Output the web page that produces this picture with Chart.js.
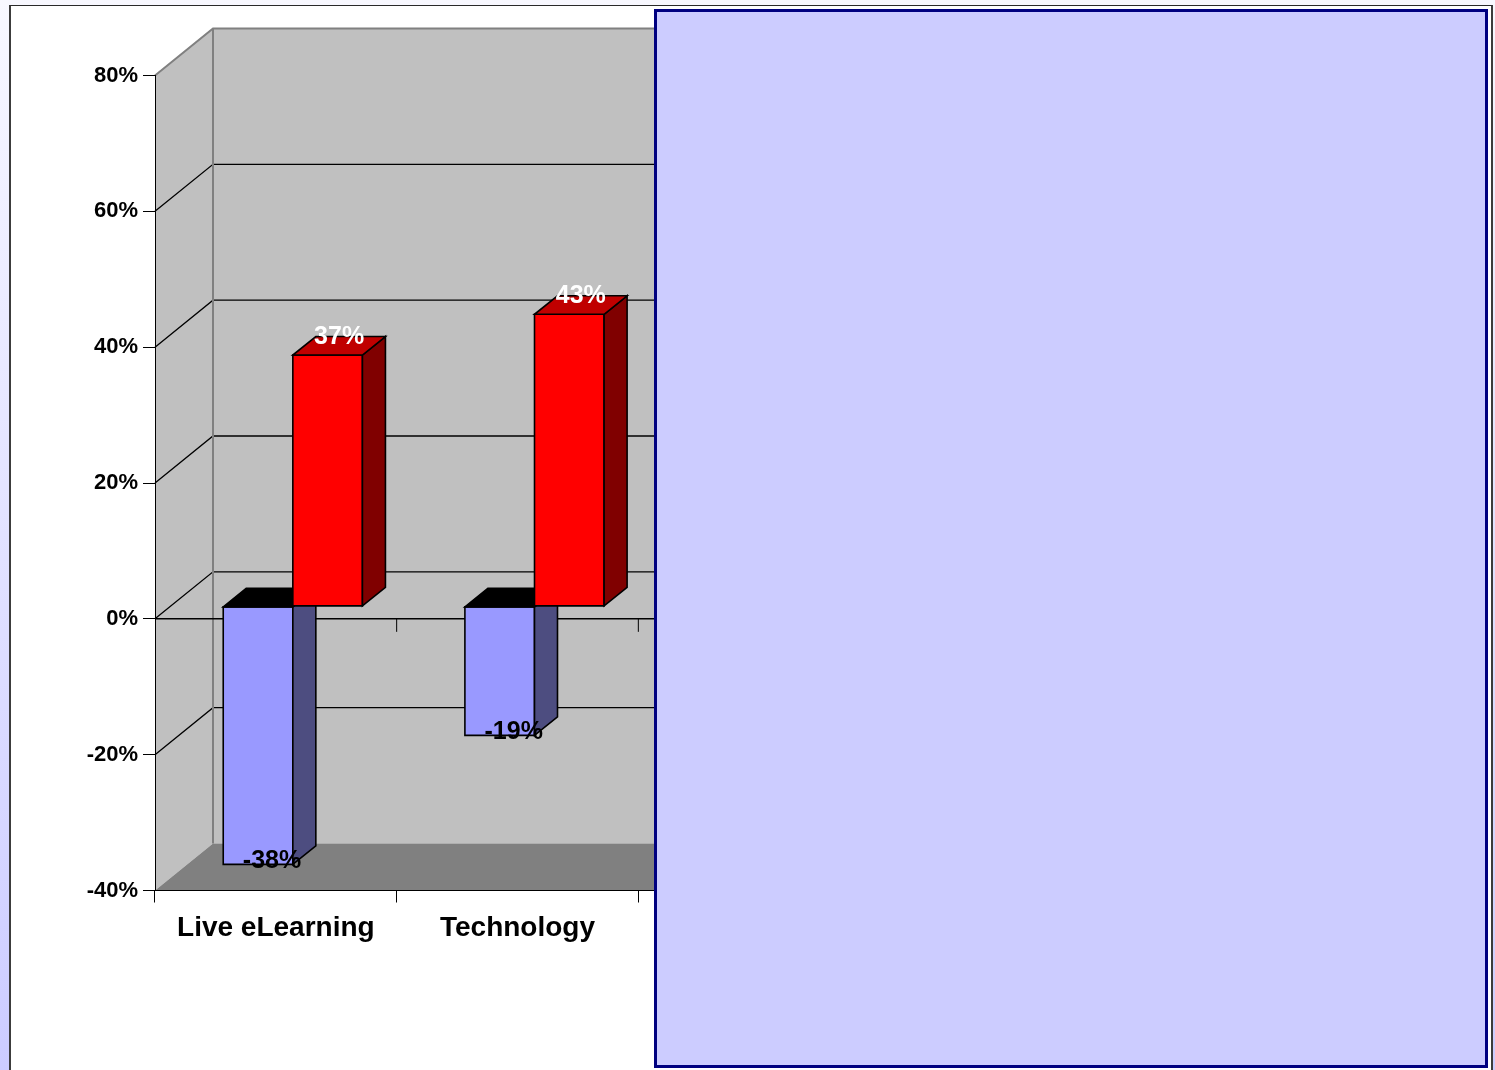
<!DOCTYPE html>
<html>
<head>
<meta charset="utf-8">
<title>Live eLearning / Technology</title>
<script src="https://cdn.jsdelivr.net/npm/chart.js@4.4.1/dist/chart.umd.min.js"></script>
<style>
  html, body { margin: 0; padding: 0; }
  body {
    width: 1495px; height: 1070px; overflow: hidden; position: relative;
    background: linear-gradient(to bottom, #f8f8ff 0%, #ccccff 100%);
  }
  #frame {
    position: absolute; left: 9px; top: 5px; width: 1480px; height: 1100px;
    background: #fff;
    border-left: 2px solid #3c3c3c; border-top: 1px solid #2a2a2a; border-right: 2px solid #3c3c3c;
  }
  #chartBox { position: absolute; left: 0; top: 0; width: 1495px; height: 1070px; }
  #panel {
    position: absolute; left: 654px; top: 9px; width: 828px; height: 1053px;
    background: #ccccff; border: 3px solid #000080;
  }
</style>
</head>
<body>
<div id="frame"></div>
<div id="chartBox"><canvas id="chart"></canvas></div>
<div id="panel"></div>
<script>
// categories and the two series (percent change)
const categories = ["Live eLearning", "Technology", ""];
const seriesBlue = [-38, -19, null];
const seriesRed = [37, 43, null];
const yTicks = [-40, -20, 0, 20, 40, 60, 80];
const yTickLabels = ["-40%", "-20%", "0%", "20%", "40%", "60%", "80%"];

// 3d look
const WALL_DX = 58, WALL_DY = -47;   // depth of walls/floor
const SHIFT_DX = 17, SHIFT_DY = -12.5; // where the bar fronts sit in depth
const BAR_DX = 23, BAR_DY = -18.5;   // depth of each bar

const faceColors = [
  { front: "#9999ff", side: "#4d4d80", top: "#000000", label: "#000000" },
  { front: "#ff0000", side: "#800000", top: "#c00000", label: "#ffffff" }
];

const FONT = 'Arial, "Liberation Sans", sans-serif';

function poly(ctx, pts, fill, stroke, lw) {
  ctx.beginPath();
  ctx.moveTo(pts[0][0], pts[0][1]);
  for (let i = 1; i < pts.length; i++) ctx.lineTo(pts[i][0], pts[i][1]);
  ctx.closePath();
  if (fill) { ctx.fillStyle = fill; ctx.fill(); }
  if (stroke) { ctx.strokeStyle = stroke; ctx.lineWidth = lw || 1; ctx.stroke(); }
}

function line(ctx, pts, color, lw) {
  ctx.beginPath();
  ctx.moveTo(pts[0][0], pts[0][1]);
  for (let i = 1; i < pts.length; i++) ctx.lineTo(pts[i][0], pts[i][1]);
  ctx.strokeStyle = color; ctx.lineWidth = lw || 1;
  ctx.stroke();
}

// walls, floor and gridlines behind everything
const wallsPlugin = {
  id: "walls",
  beforeDraw(chart) {
    const ctx = chart.ctx;
    const { left, right, top, bottom } = chart.chartArea;
    const ys = chart.scales.y;
    ctx.save();
    poly(ctx, [[left, top], [left + WALL_DX, top + WALL_DY], [left + WALL_DX, bottom + WALL_DY], [left, bottom]], "#c0c0c0");
    poly(ctx, [[left + WALL_DX, top + WALL_DY], [right + WALL_DX, top + WALL_DY], [right + WALL_DX, bottom + WALL_DY], [left + WALL_DX, bottom + WALL_DY]], "#c0c0c0");
    poly(ctx, [[left, bottom], [left + WALL_DX, bottom + WALL_DY], [right + WALL_DX, bottom + WALL_DY], [right, bottom]], "#808080");

    yTicks.forEach(v => {
      if (v === yTicks[0] || v === yTicks[yTicks.length - 1]) return;
      const py = ys.getPixelForValue(v);
      line(ctx, [[left, py], [left + WALL_DX, py + WALL_DY], [right + WALL_DX, py + WALL_DY]], "#000", 1.3);
    });
    // top edges of the walls
    line(ctx, [[left, top], [left + WALL_DX, top + WALL_DY], [right + WALL_DX, top + WALL_DY]], "#808080", 2);
    line(ctx, [[left + WALL_DX, top + WALL_DY], [left + WALL_DX, bottom + WALL_DY]], "#808080", 2);
    ctx.restore();
  },
  beforeDatasetsDraw(chart) {
    const ctx = chart.ctx;
    const { left, right, width } = chart.chartArea;
    const ys = chart.scales.y;
    const y0 = ys.getPixelForValue(0);
    ctx.save();
    // zero line across the front plane, with category ticks
    line(ctx, [[left, y0], [right, y0]], "#000", 1.5);
    for (let i = 1; i <= categories.length; i++) {
      const x = left + i * width / categories.length;
      line(ctx, [[x, y0], [x, y0 + 13]], "#000", 1);
    }

    // bars as boxes, drawn series by series
    chart.data.datasets.forEach((ds, di) => {
      const meta = chart.getDatasetMeta(di);
      const c = faceColors[di];
      meta.data.forEach((el, i) => {
        if (ds.data[i] == null) return;
        const p = el.getProps(["x", "y", "base", "width"], true);
        const x0 = p.x - p.width / 2 + SHIFT_DX;
        const x1 = p.x + p.width / 2 + SHIFT_DX;
        const yt = Math.min(p.y, p.base) + SHIFT_DY;
        const yb = Math.max(p.y, p.base) + SHIFT_DY;
        poly(ctx, [[x0, yt], [x1, yt], [x1, yb], [x0, yb]], c.front, "#000", 1.6);
        poly(ctx, [[x1, yt], [x1 + BAR_DX, yt + BAR_DY], [x1 + BAR_DX, yb + BAR_DY], [x1, yb]], c.side, "#000", 1.6);
        poly(ctx, [[x0, yt], [x1, yt], [x1 + BAR_DX, yt + BAR_DY], [x0 + BAR_DX, yt + BAR_DY]], c.top, "#000", 1.6);
      });
    });
    ctx.restore();
    return false;
  },
  afterDraw(chart) {
    const ctx = chart.ctx;
    ctx.save();
    ctx.font = "bold 25px " + FONT;
    ctx.textAlign = "center";
    ctx.textBaseline = "middle";
    chart.data.datasets.forEach((ds, di) => {
      const meta = chart.getDatasetMeta(di);
      meta.data.forEach((el, i) => {
        const v = ds.data[i];
        if (v == null) return;
        const p = el.getProps(["x", "y"], true);
        ctx.fillStyle = faceColors[di].label;
        if (v >= 0) {
          ctx.fillText(v + "%", p.x + SHIFT_DX + BAR_DX / 2, p.y + SHIFT_DY - 18);
        } else {
          ctx.fillText(v + "%", p.x + SHIFT_DX + 14, p.y + SHIFT_DY - 3);
        }
      });
    });
    ctx.restore();
  }
};

Chart.defaults.font.family = FONT;

new Chart(document.getElementById("chart"), {
  type: "bar",
  data: {
    labels: categories,
    datasets: [
      { label: "Series 1", data: seriesBlue, backgroundColor: faceColors[0].front },
      { label: "Series 2", data: seriesRed, backgroundColor: faceColors[1].front }
    ]
  },
  options: {
    responsive: true,
    maintainAspectRatio: false,
    animation: false,
    events: [],
    layout: { padding: { left: 0, top: 75.5, right: 615, bottom: 0 } },
    datasets: { bar: { barPercentage: 1, categoryPercentage: 0.576 } },
    plugins: { legend: { display: false }, tooltip: { enabled: false } },
    scales: {
      x: {
        ticks: { color: "#000", font: { size: 28, weight: "bold" }, padding: 9, maxRotation: 0, autoSkip: false },
        grid: { drawOnChartArea: false, tickLength: 12, color: "#000", offset: true },
        border: { color: "#000", width: 1 },
        afterFit(s) { s.height = 1070 - 890.5; }
      },
      y: {
        min: -40, max: 80,
        afterBuildTicks(s) { s.ticks = yTicks.map(v => ({ value: v })); },
        ticks: {
          color: "#000", font: { size: 22, weight: "bold" }, padding: 5,
          callback: (v, i) => yTickLabels[i]
        },
        grid: { drawOnChartArea: false, tickLength: 12, color: "#000" },
        border: { color: "#000", width: 1 },
        afterFit(s) { s.width = 155; }
      }
    }
  },
  plugins: [wallsPlugin]
});
</script>
</body>
</html>
